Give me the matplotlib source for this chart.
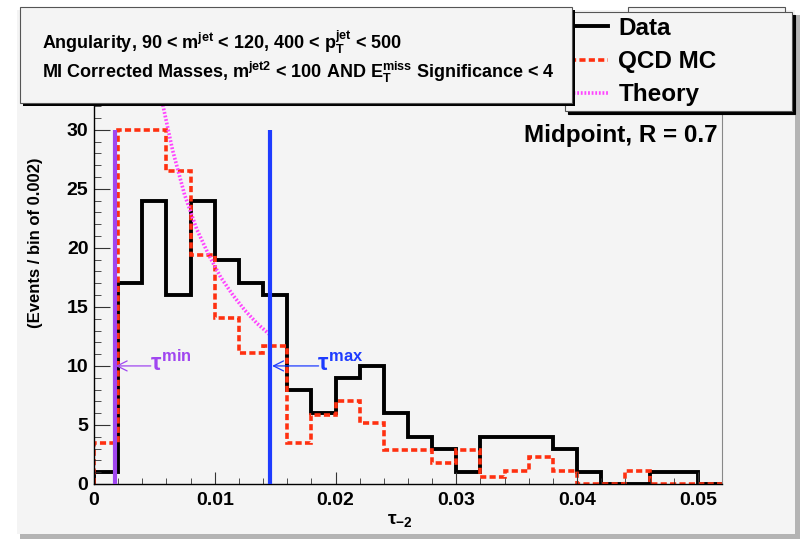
import numpy as np
import matplotlib
matplotlib.use('Agg')
from matplotlib import pyplot as plt
from matplotlib.patches import Rectangle

## 글꼴 설정 (ROOT 스타일 굵은 글씨)
plt.rcParams['font.family'] = ['Liberation Sans', 'DejaVu Sans']
plt.rcParams['font.weight'] = 'bold'
plt.rcParams['axes.labelweight'] = 'bold'
plt.rcParams['mathtext.fontset'] = 'custom'
plt.rcParams['mathtext.rm'] = 'Liberation Sans:bold'
plt.rcParams['mathtext.it'] = 'Liberation Sans:bold'
plt.rcParams['mathtext.bf'] = 'Liberation Sans:bold'
plt.rcParams['mathtext.sf'] = 'Liberation Sans:bold'

## 데이터
bin_width = 0.002
edges = np.arange(27) * bin_width
data_counts = [1, 17, 24, 16, 24, 19, 17, 16, 8, 6, 9, 10, 6, 4, 3, 1,
               4, 4, 4, 3, 1, 0, 0, 1, 1, 0]
qcd_counts = [3.5, 30, 30, 26.5, 19.4, 14.1, 11.1, 11.7, 3.45, 5.85, 7.0, 5.2,
              2.9, 2.9, 1.75, 2.9, 0.57, 1.13, 2.26, 1.13, 0, 0, 1.13, 0, 0, 0]
theory_x = [0.0057, 0.0065, 0.0075, 0.0085, 0.0095, 0.0105, 0.0115, 0.0125, 0.0135, 0.0145]
theory_y = [32.1, 28.3, 24.5, 21.6, 19.4, 17.5, 16.0, 14.7, 13.6, 12.7]
tau_min = 0.0017
tau_max = 0.01455
line_top = 30
arrow_y = 10

bg = '#f4f4f4'
red = '#ff3010'
magenta = '#ff44ff'
purple = '#a046f0'
blue = '#1e3cff'

fig = plt.figure(figsize=(8, 5.39), dpi=100, facecolor='white')
W, H = 800, 539

def fr(x0, y0, x1, y1):
    ## 픽셀(위에서부터) -> figure 좌표
    return (x0 / W, 1 - y1 / H), (x1 - x0) / W, (y1 - y0) / H

## 캔버스 배경 + 테두리 그림자
xy, w, h = fr(20, 15, 800, 539)
fig.patches.append(Rectangle(xy, w, h, transform=fig.transFigure, facecolor='#b4b4b4',
                             edgecolor='none', zorder=-2))
xy, w, h = fr(17, 10, 795, 534)
fig.patches.append(Rectangle(xy, w, h, transform=fig.transFigure, facecolor=bg,
                             edgecolor='none', zorder=-1.5))
xy, w, h = fr(628, 7, 785, 60)
fig.patches.append(Rectangle(xy, w, h, transform=fig.transFigure, facecolor=bg,
                             edgecolor='#555555', lw=0.8, zorder=-1))

ax = fig.add_axes([94 / W, 1 - 484 / H, 628 / W, 379 / H])
ax.set_facecolor(bg)

ax.stairs(data_counts, edges, color='black', lw=2.8, baseline=0)
ax.stairs(qcd_counts, edges, color=red, lw=2.6, linestyle=(0, (1.7, 0.9)), baseline=0)
ax.plot(theory_x, theory_y, color=magenta, lw=2.6, linestyle=(0, (0.5, 0.5)))

## 레전드용 더미
ax.plot([], [], color='black', lw=2.8, label='Data')
ax.plot([], [], color=red, lw=2.6, linestyle=(0, (1.7, 0.9)), label='QCD MC')
ax.plot([], [], color=magenta, lw=2.6, linestyle=(0, (0.5, 0.5)), label='Theory')

ax.vlines([tau_min], 0, line_top, color=purple, lw=3, zorder=4)
ax.vlines([tau_max], 0, line_top, color=blue, lw=3, zorder=4)

ax.annotate('', xy=(tau_min + 0.0001, arrow_y), xytext=(0.0047, arrow_y),
            arrowprops=dict(arrowstyle='->', color=purple, lw=0.9, shrinkA=0, shrinkB=0,
                            mutation_scale=18), zorder=5)
ax.annotate('', xy=(tau_max + 0.0002, arrow_y), xytext=(0.0186, arrow_y),
            arrowprops=dict(arrowstyle='->', color=blue, lw=0.9, shrinkA=0, shrinkB=0,
                            mutation_scale=18), zorder=5)
ax.text(0.0046, 9.6, r'$\tau^{min}$', color=purple, fontsize=17, ha='left', va='baseline')
ax.text(0.0185, 9.6, r'$\tau^{max}$', color=blue, fontsize=17, ha='left', va='baseline')

ax.text(0.9936, 0.902, 'Midpoint, R = 0.7', transform=ax.transAxes, fontsize=17.5,
        ha='right', va='baseline')

ax.set_xlim(0, 0.052)
ax.set_ylim(0, 32.1)
ax.set_xticks([0, 0.01, 0.02, 0.03, 0.04, 0.05])
ax.set_xticklabels(['0', '0.01', '0.02', '0.03', '0.04', '0.05'])
ax.set_xticks(np.arange(0, 0.0521, 0.002), minor=True)
ax.set_yticks([0, 5, 10, 15, 20, 25, 30])
ax.set_yticks(np.arange(0, 33, 1), minor=True)
ax.tick_params(axis='both', which='both', direction='in', colors='#333333', labelcolor='black',
               labelsize=14)
ax.tick_params(axis='x', which='major', length=8.5, pad=6)
ax.tick_params(axis='x', which='minor', length=4.3)
ax.tick_params(axis='y', which='major', length=11.5, pad=4)
ax.tick_params(axis='y', which='minor', length=5)
for s in ['top', 'right']:
    ax.spines[s].set_color('#888888')
    ax.spines[s].set_linewidth(0.8)
for s in ['left', 'bottom']:
    ax.spines[s].set_color('black')
    ax.spines[s].set_linewidth(1.0)

ax.set_xlabel(r'$\tau_{-2}$', fontsize=14)
ax.xaxis.set_label_coords(0.487, -0.075)
ax.set_ylabel('(Events / bin of 0.002)', fontsize=12, fontweight='bold')
ax.yaxis.set_label_coords(-0.081, 0.636)

leg = ax.legend(loc='upper left', bbox_to_anchor=(565 / W, 1 - 112 / H, (792 - 565) / W, 100 / H),
                bbox_transform=fig.transFigure, mode='expand', borderaxespad=0,
                fontsize=17.5, handlelength=1.55, handletextpad=0.45, labelspacing=0.42,
                borderpad=0.2, fancybox=False, framealpha=1, facecolor=bg, edgecolor='#555555',
                shadow={'color': 'black', 'alpha': 1.0})
leg.get_frame().set_linewidth(0.8)

## 왼쪽 위 설명 박스
xy, w, h = fr(23, 10, 575, 106)
fig.patches.append(Rectangle(xy, w, h, transform=fig.transFigure, facecolor='black',
                             edgecolor='none', zorder=1))
xy, w, h = fr(20, 7, 572, 103)
fig.patches.append(Rectangle(xy, w, h, transform=fig.transFigure, facecolor=bg,
                             edgecolor='#555555', lw=0.8, zorder=1.1))
fig.text(42 / W, 1 - 49 / H, r'Angularity, 90 < m$^{jet}$ < 120, 400 < p$_{T}^{jet}$ < 500',
         fontsize=13, ha='left', va='baseline', zorder=2)
fig.text(42 / W, 1 - 78 / H,
         r'MI Corrected Masses, m$^{jet2}$ < 100 AND E$_{T}^{miss}$ Significance < 4',
         fontsize=13, ha='left', va='baseline', zorder=2)

fig.savefig('out.png', dpi=100, facecolor='white')
